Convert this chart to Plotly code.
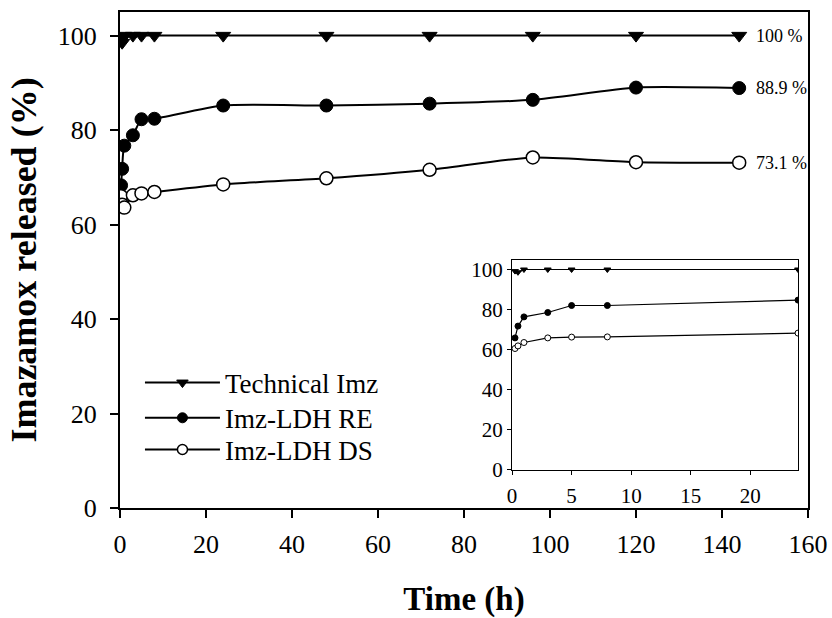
import plotly.graph_objects as go

# ---- data ----
time_main = [0.25, 0.5, 1, 3, 5, 8, 24, 48, 72, 96, 120, 144]
tech_main = [99.0, 98.5, 100, 100, 100, 100, 100, 100, 100, 100, 100, 100]
re_main = [68.3, 71.8, 76.7, 78.9, 82.3, 82.4, 85.2, 85.2, 85.6, 86.4, 89.0, 88.9]
ds_main = [66.0, 64.2, 63.6, 66.2, 66.6, 66.9, 68.5, 69.8, 71.6, 74.2, 73.2, 73.1]

time_inset = [0.25, 0.5, 1, 3, 5, 8, 24]
tech_inset = [99.2, 98.6, 100, 100, 100, 100, 100]
re_inset = [65.8, 71.7, 76.3, 78.5, 82.0, 82.0, 84.7]
ds_inset = [60.5, 61.8, 63.5, 65.8, 66.2, 66.3, 68.2]

series_names = ["Technical Imz", "Imz-LDH RE", "Imz-LDH DS"]
end_labels = ["100 %", "88.9 %", "73.1 %"]
x_ticks_main = [0, 20, 40, 60, 80, 100, 120, 140, 160]
y_ticks = [0, 20, 40, 60, 80, 100]
x_ticks_inset = [0, 5, 10, 15, 20]

FONT = "Liberation Serif, Times New Roman, serif"

styles = [
    dict(symbol="triangle-down", color="black", line=dict(color="black", width=1)),
    dict(symbol="circle", color="black", line=dict(color="black", width=1)),
    dict(symbol="circle", color="white", line=dict(color="black", width=1.5)),
]

fig = go.Figure()

main_vals = [tech_main, re_main, ds_main]
for name, vals, st in zip(series_names, main_vals, styles):
    fig.add_trace(go.Scatter(
        x=time_main, y=vals, name=name, mode="lines+markers",
        line=dict(color="black", width=2, shape="spline", smoothing=0.6),
        marker=dict(size=13, **st),
        xaxis="x", yaxis="y", showlegend=False,
    ))

# legend-only entries, one legend each so the row spacing can match
legend_ids = ["legend", "legend2", "legend3"]
for name, st, lid in zip(series_names, styles, legend_ids):
    fig.add_trace(go.Scatter(
        x=[None], y=[None], name=name, mode="lines+markers",
        line=dict(color="black", width=2),
        marker=dict(size=10, **st),
        xaxis="x", yaxis="y", showlegend=True, legend=lid,
    ))

inset_vals = [tech_inset, re_inset, ds_inset]
for name, vals, st in zip(series_names, inset_vals, styles):
    st2 = dict(st)
    st2["line"] = dict(color="black", width=1)
    fig.add_trace(go.Scatter(
        x=time_inset, y=vals, name=name, mode="lines+markers",
        line=dict(color="black", width=1.2),
        marker=dict(size=6, **st2),
        xaxis="x2", yaxis="y2", showlegend=False,
    ))

for lbl, vals in zip(end_labels, main_vals):
    fig.add_annotation(
        x=time_main[-1], y=vals[-1], xref="x", yref="y", text=lbl,
        showarrow=False, xanchor="left", xshift=15, yanchor="middle",
        font=dict(family=FONT, size=18, color="black"),
    )

axis_common = dict(
    showgrid=False, zeroline=False, showline=True, linecolor="black",
    mirror=True, ticks="outside", tickcolor="black", automargin=False,
)

legend_common = dict(
    x=0.029, xanchor="left", yanchor="middle",
    bgcolor="rgba(0,0,0,0)", borderwidth=0,
    font=dict(family=FONT, size=27, color="black"),
    itemwidth=75,
)

fig.update_layout(
    width=832, height=618,
    margin=dict(l=120, r=24, t=12, b=110),
    paper_bgcolor="white", plot_bgcolor="white",
    font=dict(family=FONT, color="black"),
    xaxis=dict(
        **axis_common, range=[0, 160], tickvals=x_ticks_main,
        linewidth=2, ticklen=8, tickwidth=1.5, ticklabelstandoff=4,
        tickfont=dict(family=FONT, size=26),
        title=dict(text="<b>Time (h)</b>", font=dict(family=FONT, size=33), standoff=29),
    ),
    yaxis=dict(
        **axis_common, range=[0, 105], tickvals=y_ticks,
        linewidth=2, ticklen=8, tickwidth=1.5, ticklabelstandoff=8,
        tickfont=dict(family=FONT, size=26),
        title=dict(text="<b>Imazamox released (%)</b>", font=dict(family=FONT, size=36), standoff=10),
    ),
    xaxis2=dict(
        **axis_common, range=[0, 24], tickvals=x_ticks_inset,
        domain=[0.5698, 0.9855], anchor="y2",
        linewidth=1, ticklen=4, tickwidth=1, ticklabelstandoff=3,
        tickfont=dict(family=FONT, size=21),
    ),
    yaxis2=dict(
        **axis_common, range=[0, 105], tickvals=y_ticks,
        domain=[0.0776, 0.501], anchor="x2",
        linewidth=1, ticklen=4, tickwidth=1,
        tickfont=dict(family=FONT, size=21),
    ),
    legend=dict(**legend_common, y=0.252),
    legend2=dict(**legend_common, y=0.181),
    legend3=dict(**legend_common, y=0.117),
)

fig.write_html(
    "out.html",
    config={"displayModeBar": False},
    post_script="document.body.style.margin='0';document.body.style.padding='0';",
)
